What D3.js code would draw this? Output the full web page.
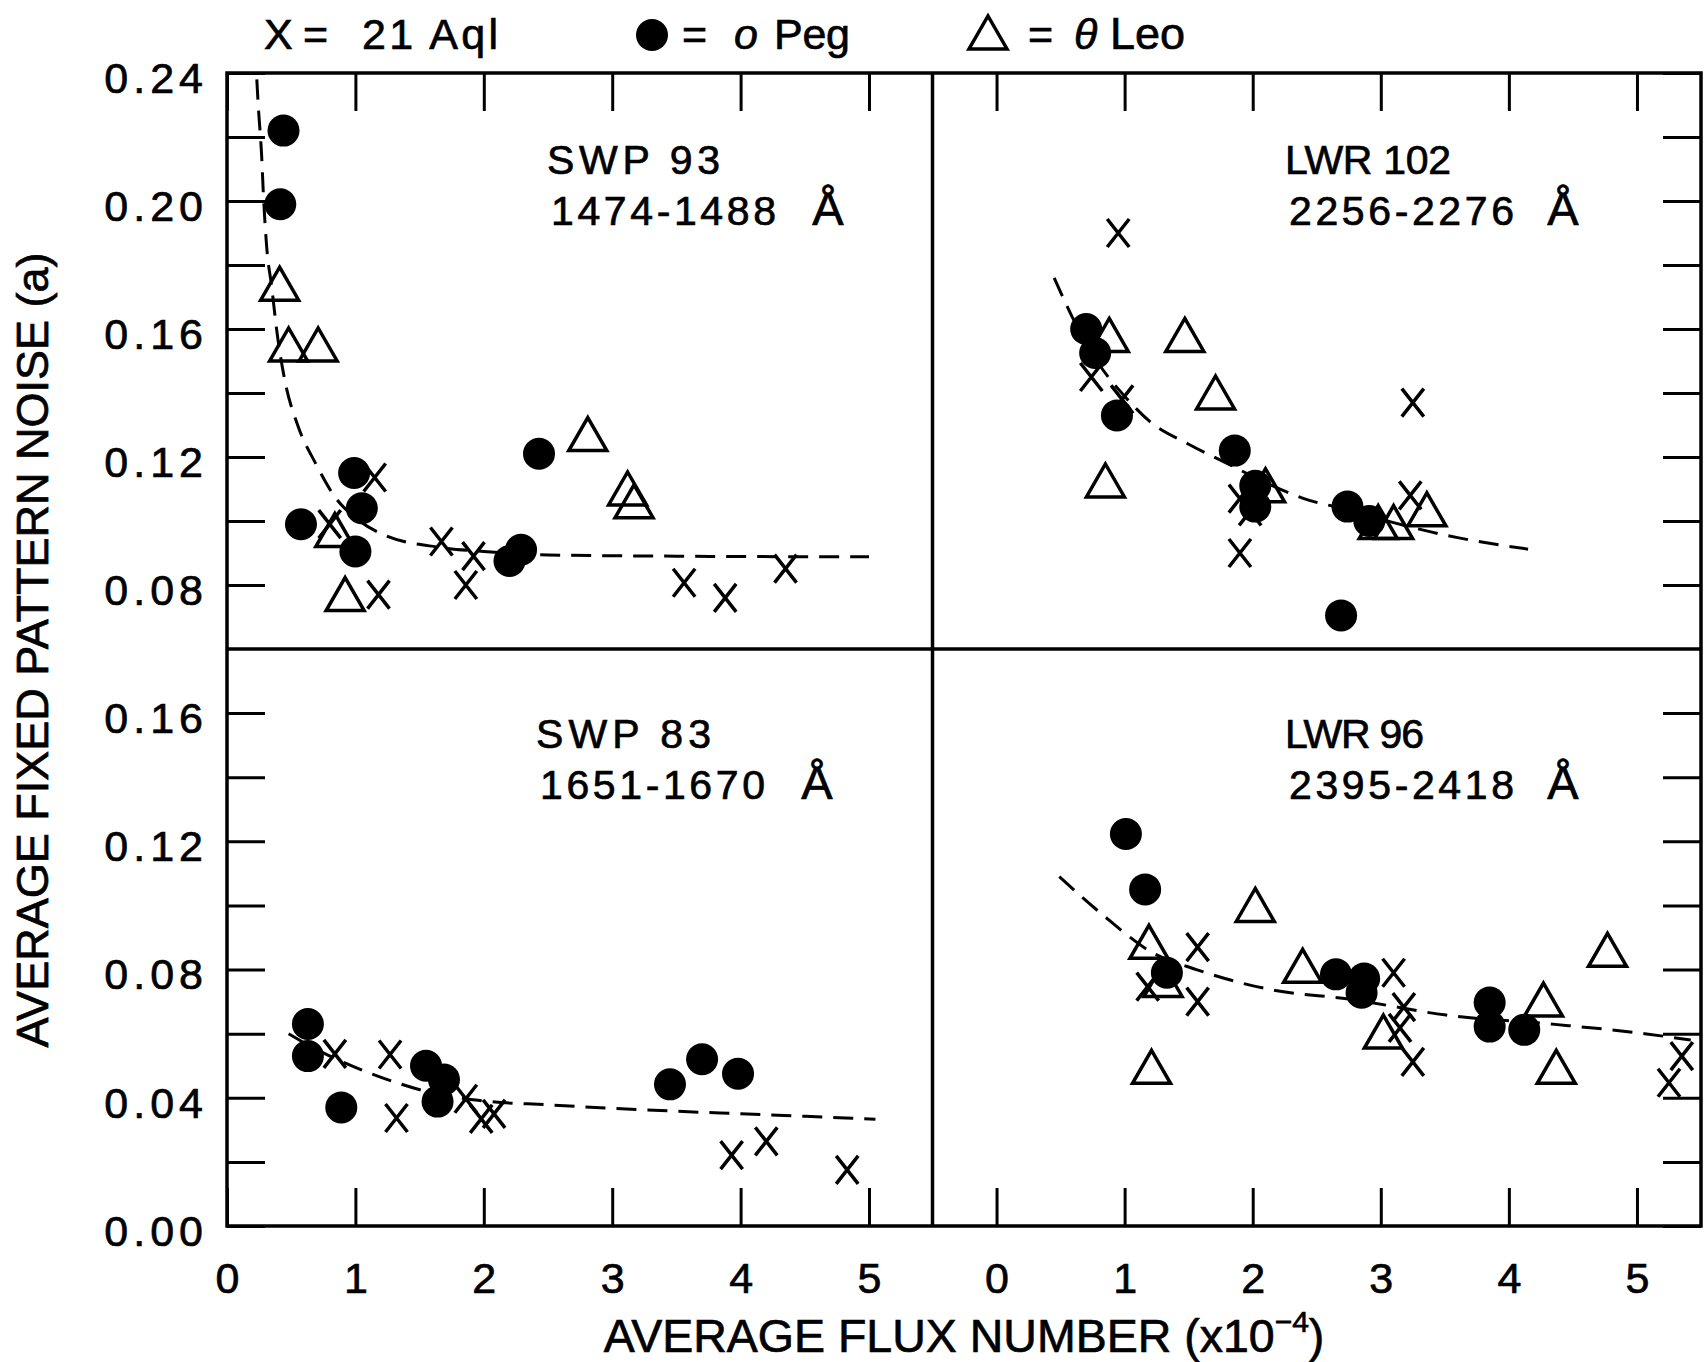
<!DOCTYPE html>
<meta charset="utf-8">
<script src="https://d3js.org/d3.v7.min.js"></script>
<style>
  body { margin: 0; background: #fff; }
  text { font-family: "Liberation Sans", Arial, Helvetica, sans-serif; fill: #000; stroke: #000; stroke-width: 0.7px; }
</style>
<body><div id="draw"></div></body>
<script>

  // ---- data: [flux (x1e-4), noise] ----
  var swp93Aql  = [[0.80,0.099],[1.15,0.1136],[1.18,0.077],[1.67,0.0936],[1.92,0.089],[1.86,0.080],[3.56,0.0807],[3.88,0.076],[4.35,0.0851]];
  var swp93Peg  = [[0.44,0.222],[0.415,0.199],[0.576,0.099],[0.99,0.115],[1.05,0.104],[1.0,0.0905],[2.2,0.0875],[2.29,0.091],[2.43,0.121]];
  var swp93Leo  = [[0.41,0.174],[0.48,0.155],[0.71,0.155],[0.84,0.097],[0.92,0.077],[2.81,0.127],[3.12,0.110],[3.17,0.106]];
  var swp93Fit  = [[0.232,0.238],[0.244,0.2295],[0.27,0.214],[0.283,0.2024],[0.309,0.1857],[0.348,0.1732],[0.387,0.1597],[0.45,0.144],[0.55,0.130],[0.69,0.118],[0.85,0.107],[1.0,0.101],[1.22,0.0957],[1.65,0.0918],[2.0,0.0905],[2.5,0.0894],[3.5,0.089],[5.0,0.0888]];

  var lwr102Aql = [[0.95,0.19],[0.74,0.145],[0.98,0.138],[3.25,0.137],[1.90,0.107],[1.98,0.103],[1.90,0.090],[3.23,0.108]];
  var lwr102Peg = [[0.70,0.16],[0.77,0.1525],[0.94,0.133],[1.86,0.122],[2.02,0.111],[2.02,0.1045],[2.74,0.1045],[2.91,0.100],[2.69,0.0705]];
  var lwr102Leo = [[0.88,0.158],[1.47,0.158],[1.71,0.140],[0.85,0.1125],[2.1,0.111],[2.98,0.0995],[3.10,0.0995],[3.36,0.1035]];
  var lwr102Fit = [[0.45,0.176],[0.6,0.163],[0.8,0.149],[1.0,0.139],[1.2,0.131],[1.5,0.124],[1.8,0.118],[2.1,0.112],[2.4,0.107],[2.8,0.103],[3.1,0.0995],[3.6,0.0948],[4.15,0.0912]];

  var swp83Aql  = [[0.84,0.0537],[1.27,0.0535],[1.32,0.0337],[1.86,0.0397],[1.98,0.0334],[2.08,0.035],[3.93,0.0221],[4.2,0.0264],[4.83,0.0175]];
  var swp83Peg  = [[0.63,0.063],[0.63,0.053],[0.89,0.037],[1.55,0.050],[1.69,0.0457],[1.64,0.0388],[3.45,0.0442],[3.70,0.052],[3.98,0.0475]];
  var swp83Leo  = [];
  var swp83Fit  = [[0.48,0.060],[0.7,0.055],[1.0,0.0495],[1.3,0.045],[1.6,0.0415],[2.0,0.039],[2.5,0.0378],[3.0,0.0367],[3.5,0.0358],[4.0,0.035],[4.5,0.0342],[5.05,0.0333]];

  var lwr96Aql  = [[1.57,0.087],[1.57,0.070],[1.18,0.0747],[3.10,0.079],[3.18,0.0683],[3.15,0.0618],[3.25,0.0512],[5.35,0.053],[5.25,0.0447]];
  var lwr96Peg  = [[1.01,0.1223],[1.16,0.105],[1.33,0.079],[2.65,0.0785],[2.87,0.0772],[2.85,0.0728],[3.85,0.0697],[3.85,0.0622],[4.12,0.0612]];
  var lwr96Leo  = [[1.19,0.0885],[1.30,0.0766],[1.21,0.0495],[2.02,0.100],[2.39,0.081],[3.02,0.0605],[4.27,0.0705],[4.37,0.0495],[4.77,0.086]];
  var lwr96Fit  = [[0.49,0.109],[0.84,0.0967],[1.22,0.0852],[1.56,0.080],[2.16,0.0736],[2.75,0.0708],[3.51,0.0658],[4.36,0.0629],[5.06,0.060],[5.42,0.058]];

  var panelNames  = ["SWP 93", "LWR 102", "SWP 83", "LWR 96"];
  var panelRanges = ["1474-1488", "2256-2276", "1651-1670", "2395-2418"];
  var xTicksLeft  = [0, 1, 2, 3, 4, 5];
  var xTicksRight = [0, 1, 2, 3, 4, 5];
  var yTicksTop   = [0.08, 0.10, 0.12, 0.14, 0.16, 0.18, 0.20, 0.22, 0.24];
  var yLabelsTop  = [0.08, 0.12, 0.16, 0.20, 0.24];
  var yTicksBot   = [0.00, 0.02, 0.04, 0.06, 0.08, 0.10, 0.12, 0.14, 0.16];
  var yLabelsBot  = [0.00, 0.04, 0.08, 0.12, 0.16];

  // ---- layout ----
  var width = 1704, height = 1362;
  var frame = {left: 227, midX: 932.5, right: 1701, top: 73, midY: 649, bottom: 1226};
  var tickLen = 38;

  var svg = d3.select("#draw").append("svg")
    .attr("width", width).attr("height", height);

  var xLeft  = d3.scaleLinear().domain([0, 5.5]).range([frame.left, frame.left + 5.5 * 128.4]);
  var xRight = d3.scaleLinear().domain([-0.5, 5.5]).range([frame.midX, frame.right]);
  var yTop   = d3.scaleLinear().domain([0.06, 0.24]).range([frame.midY, frame.top]);
  var yBot   = d3.scaleLinear().domain([0, 0.18]).range([frame.bottom, frame.midY]);

  // label boxes: line-1 width, A-ring centre
  var panels = [
    {x: xLeft,  y: yTop, aql: swp93Aql,  peg: swp93Peg,  leo: swp93Leo,  fit: swp93Fit,  lx: 547,  ly: 174, w1: 173, ax: 828},
    {x: xRight, y: yTop, aql: lwr102Aql, peg: lwr102Peg, leo: lwr102Leo, fit: lwr102Fit, lx: 1285, ly: 174, w1: 166, ax: 1563},
    {x: xLeft,  y: yBot, aql: swp83Aql,  peg: swp83Peg,  leo: swp83Leo,  fit: swp83Fit,  lx: 536,  ly: 748, w1: 175, ax: 817},
    {x: xRight, y: yBot, aql: lwr96Aql,  peg: lwr96Peg,  leo: lwr96Leo,  fit: lwr96Fit,  lx: 1285, ly: 748, w1: 139, ax: 1563}
  ];

  // ---- axes (ticks point inward) ----
  function styleAxis(g) {
    g.select(".domain").remove();
    g.selectAll(".tick line").attr("stroke", "#000").attr("stroke-width", 3);
    g.selectAll(".tick text").attr("fill", "#000").attr("font-size", 43)
      .attr("font-family", "Liberation Sans, Arial, sans-serif");
  }

  // top ticks
  svg.append("g").attr("transform", "translate(0," + frame.top + ")")
    .call(d3.axisTop(xLeft).tickValues(xTicksLeft).tickSize(-tickLen).tickFormat("")).call(styleAxis);
  svg.append("g").attr("transform", "translate(0," + frame.top + ")")
    .call(d3.axisTop(xRight).tickValues(xTicksRight).tickSize(-tickLen).tickFormat("")).call(styleAxis);

  // bottom ticks with labels
  svg.append("g").attr("transform", "translate(0," + frame.bottom + ")")
    .call(d3.axisBottom(xLeft).tickValues(xTicksLeft).tickSize(-tickLen).tickPadding(36).tickFormat(d3.format("d"))).call(styleAxis);
  svg.append("g").attr("transform", "translate(0," + frame.bottom + ")")
    .call(d3.axisBottom(xRight).tickValues(xTicksRight).tickSize(-tickLen).tickPadding(36).tickFormat(d3.format("d"))).call(styleAxis);

  // left ticks + labels
  function leftAxis(y, ticks, labels) {
    var g = svg.append("g").attr("transform", "translate(" + frame.left + ",0)")
      .call(d3.axisLeft(y).tickValues(ticks).tickSize(-tickLen).tickPadding(19)
        .tickFormat(function(d){ return labels.some(function(l){ return Math.abs(l - d) < 1e-9; }) ? d3.format(".2f")(d) : ""; }))
      .call(styleAxis);
    g.selectAll(".tick text").attr("dy", "0.45em").attr("letter-spacing", 5);
  }
  leftAxis(yTop, yTicksTop, yLabelsTop);
  leftAxis(yBot, yTicksBot, yLabelsBot);

  // right ticks
  svg.append("g").attr("transform", "translate(" + frame.right + ",0)")
    .call(d3.axisRight(yTop).tickValues(yTicksTop).tickSize(-tickLen).tickFormat("")).call(styleAxis);
  svg.append("g").attr("transform", "translate(" + frame.right + ",0)")
    .call(d3.axisRight(yBot).tickValues(yTicksBot).tickSize(-tickLen).tickFormat("")).call(styleAxis);

  // frame and dividers
  svg.append("rect")
    .attr("x", frame.left).attr("y", frame.top)
    .attr("width", frame.right - frame.left).attr("height", frame.bottom - frame.top)
    .attr("fill", "none").attr("stroke", "#000").attr("stroke-width", 3.5);
  svg.append("line").attr("x1", frame.midX).attr("x2", frame.midX).attr("y1", frame.top).attr("y2", frame.bottom)
    .attr("stroke", "#000").attr("stroke-width", 3.5);
  svg.append("line").attr("x1", frame.left).attr("x2", frame.right).attr("y1", frame.midY).attr("y2", frame.midY)
    .attr("stroke", "#000").attr("stroke-width", 3.5);

  // ---- marks ----
  var triPath = "M0,-17 L19,16 L-19,16 Z";
  var xPath = "M-11,-14 L11,14 M11,-14 L-11,14";

  panels.forEach(function(p, i) {
    var g = svg.append("g");

    var line = d3.line().x(function(d){ return p.x(d[0]); }).y(function(d){ return p.y(d[1]); })
      .curve(d3.curveMonotoneX);
    g.append("path").attr("d", line(p.fit))
      .attr("fill", "none").attr("stroke", "#000").attr("stroke-width", 3)
      .attr("stroke-dasharray", "20,11");

    g.selectAll(".leo").data(p.leo).enter().append("path")
      .attr("d", triPath)
      .attr("transform", function(d){ return "translate(" + p.x(d[0]) + "," + p.y(d[1]) + ")"; })
      .attr("fill", "none").attr("stroke", "#000").attr("stroke-width", 3.5);

    g.selectAll(".aql").data(p.aql).enter().append("path")
      .attr("d", xPath)
      .attr("transform", function(d){ return "translate(" + p.x(d[0]) + "," + p.y(d[1]) + ")"; })
      .attr("fill", "none").attr("stroke", "#000").attr("stroke-width", 3.5);

    g.selectAll(".peg").data(p.peg).enter().append("circle")
      .attr("cx", function(d){ return p.x(d[0]); })
      .attr("cy", function(d){ return p.y(d[1]); })
      .attr("r", 16).attr("fill", "#000");

    // panel label
    g.append("text").attr("x", p.lx).attr("y", p.ly).attr("font-size", 41)
      .attr("textLength", p.w1).attr("lengthAdjust", "spacing").text(panelNames[i]);
    g.append("text").attr("x", p.lx + 4).attr("y", p.ly + 51).attr("font-size", 41)
      .attr("textLength", 225).attr("lengthAdjust", "spacing").text(panelRanges[i]);
    g.append("text").attr("x", p.ax).attr("y", p.ly + 51).attr("text-anchor", "middle")
      .attr("font-size", 47).attr("font-family", "Liberation Serif, Times New Roman, serif").text("Å");
  });

  // ---- legend ----
  var legend = svg.append("g").attr("font-size", 43);
  legend.append("text").attr("x", 264).attr("y", 49).text("X");
  legend.append("text").attr("x", 303).attr("y", 49).text("=");
  legend.append("text").attr("x", 362).attr("y", 49).attr("textLength", 136).attr("lengthAdjust", "spacing").text("21 Aql");
  legend.append("circle").attr("cx", 652).attr("cy", 35).attr("r", 16).attr("fill", "#000");
  legend.append("text").attr("x", 682).attr("y", 49).text("=");
  legend.append("text").attr("x", 734).attr("y", 49).attr("font-style", "italic").text("ο");
  legend.append("text").attr("x", 774).attr("y", 49).attr("textLength", 76).text("Peg");
  legend.append("path").attr("d", triPath).attr("transform", "translate(988,33)")
    .attr("fill", "none").attr("stroke", "#000").attr("stroke-width", 3.5);
  legend.append("text").attr("x", 1028).attr("y", 49).text("=");
  legend.append("text").attr("x", 1074).attr("y", 49).attr("font-style", "italic").text("θ");
  legend.append("text").attr("x", 1110).attr("y", 49).attr("font-size", 45).text("Leo");

  // ---- axis titles ----
  var xt = svg.append("text").attr("x", 964).attr("y", 1352).attr("text-anchor", "middle").attr("font-size", 46.5);
  xt.append("tspan").text("AVERAGE FLUX NUMBER (x10");
  xt.append("tspan").attr("font-size", 30).attr("dy", -20).text("−4");
  xt.append("tspan").attr("dy", 20).text(")");

  svg.append("text")
    .attr("transform", "translate(48,650) rotate(-90)")
    .attr("text-anchor", "middle").attr("font-size", 45)
    .text("AVERAGE FIXED PATTERN NOISE (a)");

</script>
